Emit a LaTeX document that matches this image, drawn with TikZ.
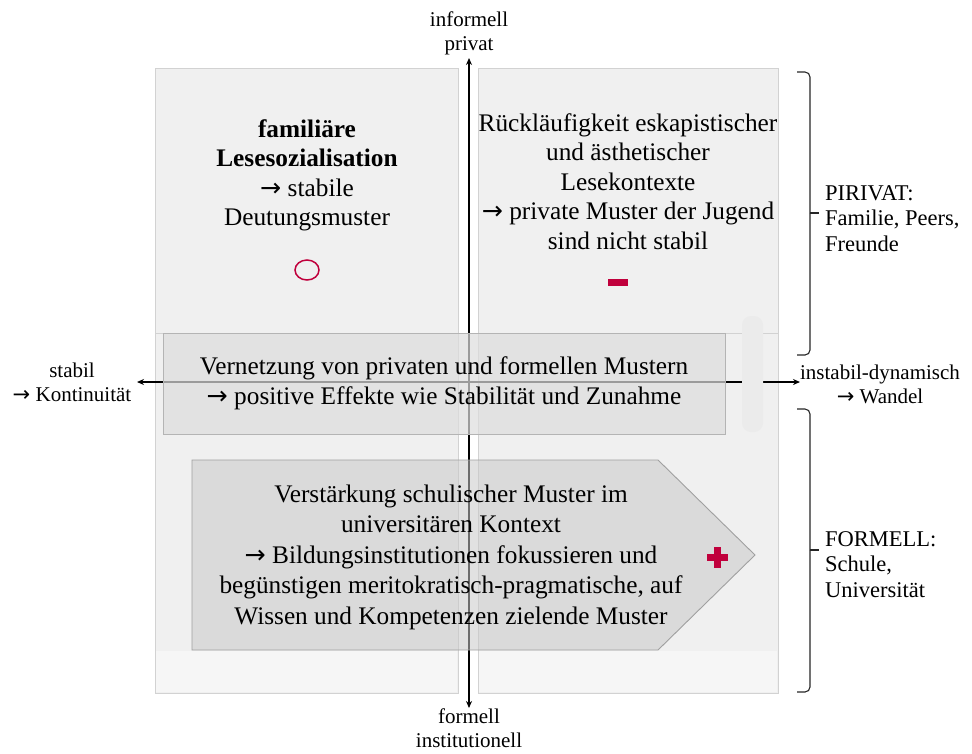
\documentclass[tikz,border=0pt]{standalone}
\usepackage{fontspec}
\setmainfont{Liberation Serif}
\newfontfamily\arrowfam{DejaVu Sans}
\newcommand{\rarr}{{\arrowfam →}}
\usetikzlibrary{arrows.meta,shapes.geometric}
\definecolor{crim}{HTML}{C0003C}
\definecolor{quadfill}{HTML}{F0F0F0}
\definecolor{quadline}{HTML}{D2D2D2}
\definecolor{midfill}{HTML}{DDDDDD}
\definecolor{midline}{HTML}{B4B4B4}
\definecolor{pentfill}{HTML}{C8C8C8}
\definecolor{pentline}{HTML}{A0A0A0}
\begin{document}
\begin{tikzpicture}[x=1pt,y=-1pt,
  >={Stealth[length=7pt,width=6pt]},
  quad/.style={fill=quadfill, draw=quadline, line width=0.8pt},
  axisline/.style={line width=1.2pt, draw=black},
  mtext/.style={font=\fontsize{25.3}{29.5}\selectfont, align=center, inner sep=0pt, anchor=north},
  ptext/.style={font=\fontsize{25.3}{30.5}\selectfont, align=center, inner sep=0pt, anchor=north},
  lbl/.style={font=\fontsize{21}{24}\selectfont, align=center, inner sep=0pt, anchor=north},
  slbl/.style={font=\fontsize{22.5}{25.5}\selectfont, align=left, inner sep=0pt, anchor=north west},
  bracestyle/.style={line width=1.1pt, draw=black!85, rounded corners=5pt},
  midbox/.style={fill=midfill, fill opacity=0.7, text opacity=1, draw=midline, line width=0.9pt,
     font=\fontsize{25.3}{29.5}\selectfont, align=center, inner sep=0pt}
]
\useasboundingbox (0,0) rectangle (972,753);

% quadrants
\draw[quad] (155,68) rectangle (458,333);
\draw[quad] (478,68) rectangle (778,333);
\draw[quad] (155,333) rectangle (458,693);
\draw[quad] (478,333) rectangle (778,693);
\fill[white, opacity=0.45] (156,651) rectangle (457,692);
\fill[white, opacity=0.45] (479,651) rectangle (777,692);

% axes
\coordinate (vtop) at (469,58);
\coordinate (vbot) at (469,708);
\coordinate (hleft) at (137,382);
\coordinate (hright) at (800,382);
\draw[axisline, <->] (vbot) -- (vtop);
\draw[axisline, <->] (hleft) -- (hright);

% faint vertical bar
\fill[black!8, rounded corners=9pt] (742,316) rectangle (763,432);

% middle box
\node[midbox, minimum width=562pt, minimum height=101pt] (mid) at (444,383.5)
  {\strut Vernetzung von privaten und formellen Mustern\\\rarr{} positive Effekte wie Stabilität und Zunahme\strut};

% pentagon
\filldraw[fill=pentfill, fill opacity=0.55, draw=pentline, line width=0.9pt]
  (192,460) -- (658,460) -- (755,555) -- (658,650) -- (192,650) -- cycle;
\node[ptext] (pent) at (451,480.6)
  {\strut Verstärkung schulischer Muster im\\universitären Kontext\\\rarr{} Bildungsinstitutionen fokussieren und\\begünstigen meritokratisch-pragmatische, auf\\Wissen und Kompetenzen zielende Muster\strut};

% quadrant texts
\node[mtext] (tl) at (307,116.3)
  {\strut\textbf{familiäre}\\\textbf{Lesesozialisation}\\\rarr{} stabile\\Deutungsmuster\strut};
\node[mtext] (tr) at (628,110.3)
  {\strut Rückläufigkeit eskapistischer\\und ästhetischer\\Lesekontexte\\\rarr{} private Muster der Jugend\\sind nicht stabil\strut};

% signs
\node[draw=crim, line width=1.5pt, ellipse, minimum width=24pt, minimum height=20pt, inner sep=0pt] (circ) at (307,270) {};
\fill[crim] (608,279) rectangle (628,286);
\fill[crim] (706.5,553.5) rectangle (727.5,560.5);
\fill[crim] (713.5,546.5) rectangle (720.5,567.5);

% axis labels
\node[lbl] (ltop) at (469,9.2) {\strut informell\\privat\strut};
\node[lbl] (lbot) at (469,706.5) {\strut formell\\institutionell};
\node[lbl] (lleft) at (72,360.2) {\strut stabil\\\rarr{} Kontinuität\strut};
\node[lbl] (lright) at (880,362.2) {\strut instabil-dynamisch\\\rarr{} Wandel\strut};

% braces
\draw[bracestyle] (797,72) -| (810,213);
\draw[bracestyle] (810,213) |- (797,355);
\draw[line width=1.1pt, draw=black!85] (810,213) -- (819,213);
\draw[bracestyle] (797,409) -| (810,550);
\draw[bracestyle] (810,550) |- (797,692);
\draw[line width=1.1pt, draw=black!85] (810,550) -- (819,550);

% side labels
\node[slbl] (spriv) at (825,182.15) {\strut PIRIVAT:\\Familie, Peers,\\Freunde\strut};
\node[slbl] (sform) at (825,528.15) {\strut FORMELL:\\Schule,\\Universität\strut};
\end{tikzpicture}
\end{document}
